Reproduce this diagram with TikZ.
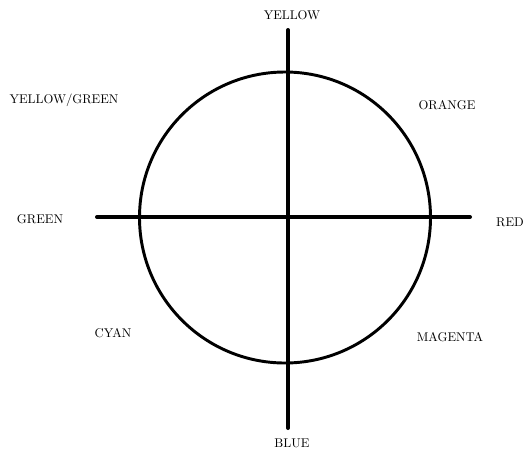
\documentclass[tikz,border=0pt]{standalone}
\usepackage{xcolor}
\usepackage{tikz}
\usetikzlibrary{positioning}

\tikzset{
  hue/.style={font=\fontsize{9.5}{11}\selectfont, text=black, inner sep=1pt},
  axis/.style={line width=3pt, line cap=round},
  wheel/.style={line width=2.2pt}
}

\begin{document}
\begin{tikzpicture}[x=0.75pt, y=-0.75pt]
\useasboundingbox (0,0) rectangle (525,451);
% axes
\coordinate (top) at (288,30);
\coordinate (bottom) at (288,428);
\coordinate (left) at (97,217);
\coordinate (right) at (470,217);
\draw[axis] (top) -- (bottom);
\draw[axis] (left) -- (right);
% colour circle
\node[wheel, draw, circle, minimum size=291*0.75pt, inner sep=0pt] (ring) at (285,217.5) {};
% labels
\node[hue] (yellow) at (292,15) {YELLOW};
\node[hue] (blue) at (292,443) {BLUE};
\node[hue] (green) at (40,219) {GREEN};
\node[hue] (red) at (510,222) {RED};
\node[hue] (ygreen) at (64,100) {YELLOW/GREEN};
\node[hue] (orange) at (447,105) {ORANGE};
\node[hue] (magenta) at (450,337) {MAGENTA};
\node[hue] (cyan) at (113,333) {CYAN};
\end{tikzpicture}
\end{document}
